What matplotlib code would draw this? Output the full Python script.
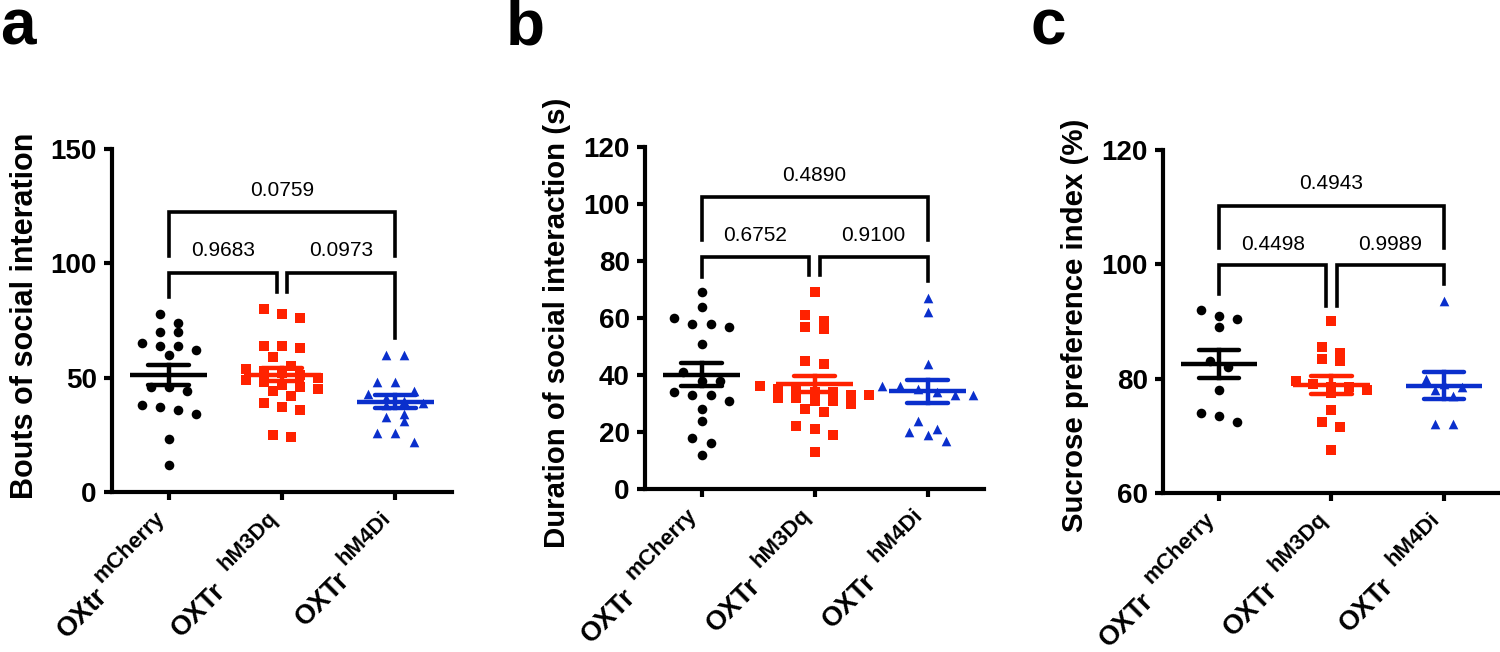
import numpy as np
import matplotlib.pyplot as plt
from matplotlib.font_manager import FontProperties

plt.rcParams['font.family'] = ['Liberation Sans', 'DejaVu Sans']

# group labels: main part and raised part
main_a = ['OXtr', 'OXTr', 'OXTr']
main_bc = ['OXTr', 'OXTr', 'OXTr']
sup_names = ['mCherry', 'hM3Dq', 'hM4Di']
colors = ['#000000', '#FF2200', '#0A2FCC']
markers = ['o', 's', '^']

# panel a: bouts of social interaction
bouts_mcherry = [78, 74, 70, 70, 65, 64, 64, 62, 60, 46, 46, 44, 38, 37, 36, 34, 23, 12]
bouts_hm3dq = [80, 78, 76, 64, 64, 63, 59, 55, 54, 53, 52, 51, 50, 49, 48, 47, 46, 45,
               44, 42, 39, 37, 36, 25, 24]
bouts_hm4di = [60, 60, 48, 48, 44, 43, 41, 40, 39, 38, 34, 33, 31, 26, 26, 22]
p_a = ['0.9683', '0.0973', '0.0759']

# panel b: duration of social interaction (s)
dur_mcherry = [69, 64, 60, 58, 58, 57, 51, 41, 38, 38, 34, 33, 33, 31, 28, 24, 18, 16, 12]
dur_hm3dq = [69, 61, 59, 57, 56, 45, 44, 36, 35, 35, 34, 34, 33, 33, 32, 32, 31, 31, 30,
             28, 27, 22, 21, 19, 13]
dur_hm4di = [67, 62, 44, 36, 36, 35, 34, 33, 33, 24, 21, 20, 19, 17]
p_b = ['0.6752', '0.9100', '0.4890']

# panel c: sucrose preference index (%)
suc_mcherry = [92, 91, 90.5, 89, 83, 82, 78, 74, 73.5, 72.5]
suc_hm3dq = [90, 85.5, 84.5, 83.5, 83, 79, 78.5, 79.5, 78.5, 78, 77.5, 74.5, 72.5, 71.5, 67.5]
suc_hm4di = [93.5, 80, 79, 78.5, 78, 77, 72, 72]
p_c = ['0.4498', '0.9989', '0.4943']


def swarm(vals, bin_size, step):
    vals = np.asarray(vals, float)
    order = np.argsort(-vals, kind='stable')
    offs = np.zeros(len(vals))
    i = 0
    while i < len(order):
        j = i
        while j < len(order) and vals[order[i]] - vals[order[j]] < bin_size:
            j += 1
        k = j - i
        for m, idx in enumerate(order[i:j]):
            offs[idx] = (m - (k - 1) / 2) * step
        i = j
    return offs


def bracket(ax, x1, x2, y, y1, y2, text, ty):
    ax.plot([x1, x1, x2, x2], [y1, y, y, y2], color='black', lw=2.6,
            solid_joinstyle='miter', clip_on=False)
    ax.text((x1 + x2) / 2, ty, text, ha='center', va='center', fontsize=15)


fig = plt.figure(figsize=(15, 6.52), dpi=100)
renderer = fig.canvas.get_renderer()
MAIN_SIZE, SUP_SIZE = 19.5, 16
sup_prop = FontProperties(family='Liberation Sans', weight='bold', size=SUP_SIZE)
u = np.array([np.sqrt(0.5), np.sqrt(0.5)])
nrm = np.array([-np.sqrt(0.5), np.sqrt(0.5)])


def group_labels(ax, mains, gaps):
    to_pt = 72 / fig.dpi
    sup_off = np.array([-15.0, -16.0])
    for i, (mtxt, stxt, gap) in enumerate(zip(mains, sup_names, gaps)):
        w, h, d = renderer.get_text_width_height_descent(stxt, sup_prop, ismath=False)
        main_off = sup_off - (w + gap) * u - 11 * nrm
        ax.annotate(stxt, xy=(i, 0), xycoords=ax.get_xaxis_transform(),
                    xytext=tuple(sup_off * to_pt), textcoords='offset points',
                    rotation=45, rotation_mode='anchor', ha='right', va='top',
                    fontsize=SUP_SIZE, fontweight='bold', annotation_clip=False)
        ax.annotate(mtxt, xy=(i, 0), xycoords=ax.get_xaxis_transform(),
                    xytext=tuple(main_off * to_pt), textcoords='offset points',
                    rotation=45, rotation_mode='anchor', ha='right', va='top',
                    fontsize=MAIN_SIZE, fontweight='bold', annotation_clip=False)


panels = [
    dict(rect=[0.0747, 0.2454, 0.2267, 0.5261], data=[bouts_mcherry, bouts_hm3dq, bouts_hm4di],
         ylim=(0, 150), ticks=[0, 50, 100, 150], mains=main_a, gaps=[4, 14, 6], p=p_a,
         ylabel='Bouts of social interation', ylsize=22, ylab_x=-0.256, ylab_y=0.513,
         br_low=95.7, legs_low=(85.4, 87.6, 87.6, 67.2), br_top=122.4, legs_top=(103.2, 103.2),
         t_low=105.6, t_top=131.8),
    dict(rect=[0.43, 0.25, 0.226, 0.5245], data=[dur_mcherry, dur_hm3dq, dur_hm4di],
         ylim=(0, 120), ticks=[0, 20, 40, 60, 80, 100, 120], mains=main_bc, gaps=[10, 11, 13],
         p=p_b, ylabel='Duration of social interaction (s)', ylsize=21.2, ylab_x=-0.26,
         ylab_y=0.487,
         br_low=81.5, legs_low=(74.5, 75.1, 75.1, 73.0), br_top=102.6, legs_top=(87.3, 87.3),
         t_low=88.8, t_top=109.9),
    dict(rect=[0.7753, 0.2439, 0.2247, 0.5261], data=[suc_mcherry, suc_hm3dq, suc_hm4di],
         ylim=(60, 120), ticks=[60, 80, 100, 120], mains=main_bc, gaps=[10, 11, 13], p=p_c,
         ylabel='Sucrose preference index (%)', ylsize=21.2, ylab_x=-0.26, ylab_y=0.49,
         br_low=99.8, legs_low=(94.75, 92.7, 92.7, 96.5), br_top=110.2, legs_top=(102.9, 102.9),
         t_low=103.5, t_top=114.2),
]

for P in panels:
    ax = fig.add_axes(P['rect'])
    y0, y1 = P['ylim']
    bin_size = (y1 - y0) * 10 / 343
    for i, vals in enumerate(P['data']):
        vals = np.asarray(vals, float)
        xs = i + swarm(vals, bin_size, 0.16)
        ax.scatter(xs, vals, s=48, marker=markers[i], color=colors[i], linewidths=0,
                   zorder=2, clip_on=False)
        m = vals.mean()
        se = vals.std(ddof=1) / np.sqrt(len(vals))
        ax.plot([i - 0.34, i + 0.34], [m, m], color=colors[i], lw=3.2, zorder=3,
                solid_capstyle='butt')
        ax.plot([i, i], [m - se, m + se], color=colors[i], lw=3.2, zorder=3)
        for yy in (m - se, m + se):
            ax.plot([i - 0.18, i + 0.18], [yy, yy], color=colors[i], lw=3.2, zorder=3,
                    solid_capstyle='round')

    d = 0.047
    bl = P['legs_low']
    bracket(ax, 0, 1 - d, P['br_low'], bl[0], bl[1], P['p'][0], P['t_low'])
    bracket(ax, 1 + d, 2, P['br_low'], bl[2], bl[3], P['p'][1], P['t_low'])
    bt = P['legs_top']
    bracket(ax, 0, 2, P['br_top'], bt[0], bt[1], P['p'][2], P['t_top'])

    ax.set_xlim(-0.5, 2.5)
    ax.set_ylim(y0, y1)
    ax.set_yticks(P['ticks'])
    ax.set_xticks([0, 1, 2])
    ax.set_xticklabels([])
    group_labels(ax, P['mains'], P['gaps'])
    for sp in ['top', 'right']:
        ax.spines[sp].set_visible(False)
    for sp in ['left', 'bottom']:
        ax.spines[sp].set_linewidth(3)
    ax.tick_params(direction='out', length=6, width=3, pad=5, labelsize=20)
    for t in ax.get_yticklabels():
        t.set_fontweight('bold')
    ax.set_ylabel(P['ylabel'], fontsize=P['ylsize'], fontweight='bold', va='center')
    ax.yaxis.set_label_coords(P['ylab_x'], P['ylab_y'])

fig.text(0.0, 0.931, 'a', fontsize=46, fontweight='bold', va='baseline')
fig.text(0.337, 0.931, 'b', fontsize=46, fontweight='bold', va='baseline')
fig.text(0.687, 0.931, 'c', fontsize=46, fontweight='bold', va='baseline')

fig.savefig('out.png', dpi=100)
